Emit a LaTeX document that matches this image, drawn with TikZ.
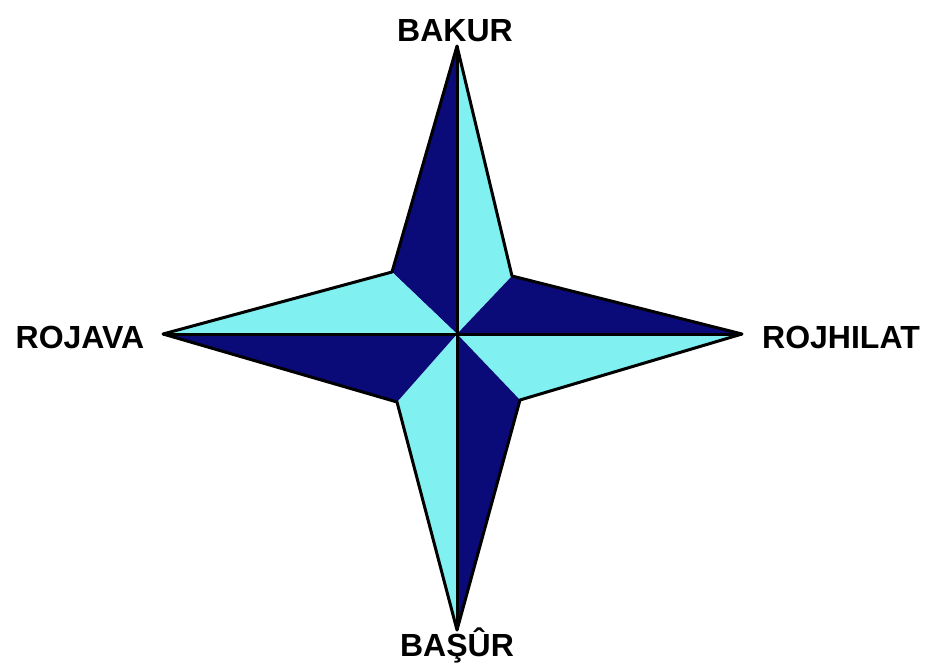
\documentclass[tikz,border=0pt]{standalone}
\usepackage{fontspec}
\setmainfont{Liberation Sans}
\definecolor{navy}{RGB}{10,10,120}
\definecolor{lightcyan}{RGB}{128,240,240}
\begin{document}
\begin{tikzpicture}[x=1pt,y=-1pt,
  dark/.style={fill=navy},
  light/.style={fill=lightcyan},
  outline/.style={draw=black,line width=3pt,line join=round},
  divider/.style={draw=black,line width=3pt},
  lbl/.style={font=\fontsize{32}{36}\selectfont\bfseries,text height=22.9pt,text depth=0pt,inner sep=0pt}]
\useasboundingbox (0,0) rectangle (930,664);
\fill[white] (0,0) rectangle (930,664);
\coordinate (C) at (457,334);
\coordinate (T) at (457,46);
\coordinate (B) at (457,630);
\coordinate (L) at (163,334);
\coordinate (R) at (742,334);
\coordinate (UL) at (392,272);
\coordinate (UR) at (512,276);
\coordinate (LR) at (520,400);
\coordinate (LL) at (397,402);
\fill[dark] (T) -- (C) -- (UL) -- cycle;
\fill[light] (T) -- (C) -- (UR) -- cycle;
\fill[dark] (R) -- (C) -- (UR) -- cycle;
\fill[light] (R) -- (C) -- (LR) -- cycle;
\fill[dark] (B) -- (C) -- (LR) -- cycle;
\fill[light] (B) -- (C) -- (LL) -- cycle;
\fill[dark] (L) -- (C) -- (LL) -- cycle;
\fill[light] (L) -- (C) -- (UL) -- cycle;
\draw[divider] (T) -- (B);
\draw[divider] (L) -- (R);
\draw[outline] (T) -- (UR) -- (R) -- (LR) -- (B) -- (LL) -- (L) -- (UL) -- cycle;
\node[lbl] (bakur) at (455,30) {BAKUR};
\node[lbl] (basur) at (457,645) {BAŞÛR};
\node[lbl] (rojava) at (80,337) {ROJAVA};
\node[lbl] (rojhilat) at (841,337) {ROJHILAT};
\end{tikzpicture}
\end{document}
